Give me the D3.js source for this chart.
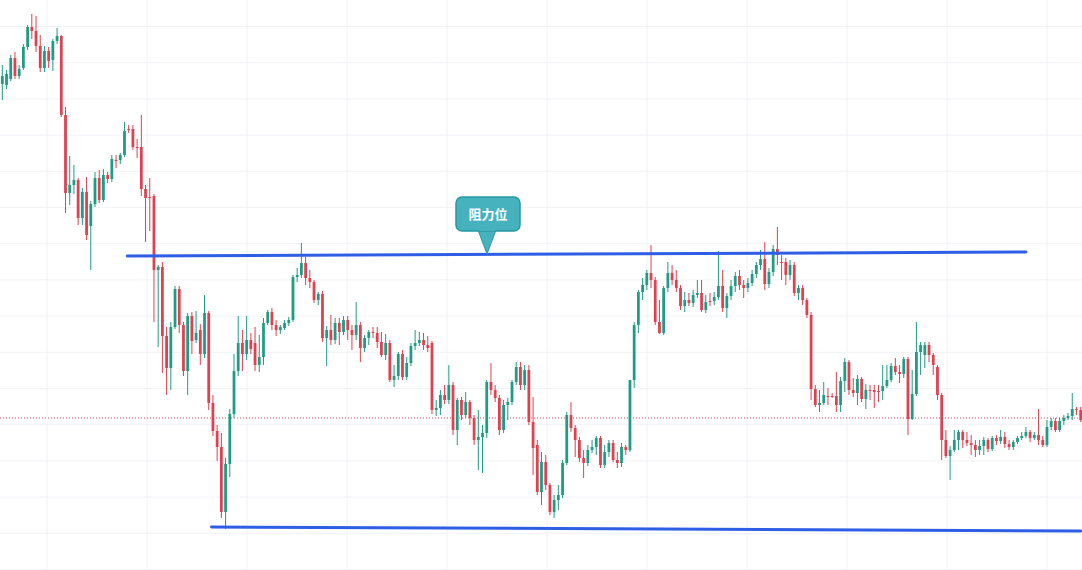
<!DOCTYPE html>
<html>
<head>
<meta charset="utf-8">
<script src="https://cdn.jsdelivr.net/npm/d3@7"></script>
<style>
  body { margin: 0; background: #fff; }
  svg { display: block; }
</style>
</head>
<body>
<svg width="1082" height="570"></svg>
<script>
// candle values (price scale is inverted: smaller = higher on chart)
const opens = [84,85,79,58,76,68,47,27,31,46,68,51,60,41,36,115,193,185,180,218,192,226,204,178,200,175,179,160,160,155,129,129,147,147,189,197,196,270,267,336,368,327,289,325,371,316,340,330,354,313,403,431,447,512,464,414,371,343,354,340,343,365,357,323,312,325,330,328,323,320,277,275,263,278,282,300,294,338,330,340,323,332,320,330,335,325,348,338,332,333,342,355,343,380,376,354,377,363,346,343,340,345,343,410,408,395,400,385,430,400,415,402,418,440,437,433,382,390,398,430,405,402,382,367,385,370,422,445,492,462,485,512,500,495,463,415,428,440,458,463,450,447,438,465,452,443,460,463,447,450,380,325,292,285,273,280,322,333,288,273,280,288,306,300,303,295,293,310,301,301,297,286,308,296,286,276,285,288,283,274,265,259,284,272,249,262,262,275,265,293,288,300,315,389,405,403,396,396,396,405,381,362,390,393,379,399,390,390,391,391,386,380,366,372,374,359,419,394,352,355,345,355,367,395,440,456,450,440,432,440,443,445,450,446,440,449,438,441,437,444,447,442,438,436,432,438,435,440,445,427,421,430,421,418,416,409,410];
const closes = [76,74,58,76,69,47,27,31,46,68,51,61,41,36,115,193,185,180,218,192,235,204,178,200,175,179,159,160,155,131,129,147,147,189,198,197,270,267,336,368,327,289,325,371,316,341,333,354,313,403,431,447,512,464,414,371,343,354,340,349,365,357,323,312,325,330,327,323,320,277,275,263,278,282,300,294,338,330,340,323,332,320,330,335,325,348,338,332,333,342,355,343,380,376,354,377,363,346,343,340,345,348,410,408,395,400,385,430,400,415,402,418,440,437,433,382,390,398,430,405,402,382,367,385,370,422,448,492,462,485,512,500,495,463,415,428,440,458,463,450,447,438,465,452,443,460,463,447,450,380,325,292,285,273,280,322,333,288,273,280,288,306,300,303,295,293,310,302,301,297,286,308,296,286,276,285,288,283,274,265,259,284,272,249,255,262,275,265,293,288,300,315,389,405,403,395,396,396,405,381,362,390,393,379,399,390,390,392,391,386,380,366,372,374,359,419,394,352,345,345,355,365,395,440,456,450,440,432,440,443,445,450,446,440,449,438,441,437,444,447,442,438,436,432,438,435,440,445,427,421,430,421,418,416,409,410,420];
const highs = [65,70,55,52,65,44,25,14,16,35,46,47,39,28,35,107,156,165,178,188,177,201,172,170,169,172,155,155,153,122,125,125,139,115,185,178,194,265,262,327,322,286,286,322,313,312,311,324,295,311,395,425,433,458,409,354,316,330,316,333,327,335,318,310,308,320,325,320,317,275,268,243,257,270,280,292,291,326,315,318,318,316,316,325,302,322,335,330,327,327,332,334,340,365,352,350,357,343,330,332,333,336,341,400,390,385,365,382,398,397,392,400,415,410,425,380,363,385,395,400,398,380,362,362,365,365,397,440,452,455,483,495,485,460,412,402,425,437,450,445,440,436,436,445,440,440,452,443,445,447,322,290,278,270,245,277,300,286,262,265,270,285,292,293,290,280,280,295,293,292,251,270,293,280,272,270,280,278,270,262,250,242,268,245,227,255,258,260,262,285,285,298,312,385,390,382,388,393,372,377,358,360,378,375,377,384,385,385,385,365,365,363,358,365,357,357,370,322,342,342,342,353,365,393,430,446,430,430,430,432,435,440,440,437,438,436,435,430,432,440,440,436,432,427,430,432,409,436,420,418,418,418,415,413,393,407,407];
const lows = [100,89,81,79,79,70,50,39,52,72,72,68,71,44,117,213,205,194,225,225,240,270,207,203,202,183,182,168,164,157,133,150,158,196,242,231,322,347,373,395,390,329,333,376,395,354,343,365,358,410,436,461,518,529,477,418,376,371,360,354,371,372,365,325,330,336,334,330,326,322,282,278,285,288,303,305,342,366,345,344,345,335,340,350,340,362,352,345,338,348,357,360,382,387,380,380,380,366,350,346,350,352,414,416,415,404,404,435,445,420,418,425,445,470,473,438,395,402,435,433,420,405,385,390,390,425,475,495,505,490,515,518,510,498,465,432,457,462,478,466,453,455,468,468,457,462,468,467,455,452,388,333,300,290,288,325,334,335,292,285,292,310,312,306,307,298,312,313,306,305,300,312,318,300,292,290,298,292,286,278,270,290,288,276,265,280,285,280,296,300,305,318,400,407,412,405,405,398,412,412,392,395,397,405,402,409,400,408,402,400,388,382,375,383,378,435,420,396,375,368,362,375,400,460,458,480,452,450,448,446,455,457,455,455,452,451,445,444,448,450,450,444,440,438,442,440,445,447,447,430,432,432,425,420,420,415,422];

// drawn levels (index of candle where each line starts/ends, and its value)
const resistance = { from: 30, to: 243, start: 256, end: 252, label: "阻力位" };
const support = { from: 50, to: 256, start: 527, end: 531 };
const markLevel = 418;

function draw() {
  const svg = d3.select("svg");
  const width = +svg.attr("width");
  const height = +svg.attr("height");

  const idx = d3.range(opens.length);
  const x = d3.scaleBand().domain(idx).range([-0.5, 1083.5]).padding(0.34);
  const y = d3.scaleLinear().domain([0, 570]).range([0, height]);
  const cx = (i) => x(i) + x.bandwidth() / 2;

  // grid
  const vGrid = d3.range(47, width, 100);
  const hGrid = d3.range(26.5, height, 36.2);
  svg.append("g").selectAll("line").data(vGrid).join("line")
    .attr("x1", (d) => d).attr("x2", (d) => d).attr("y1", 0).attr("y2", height)
    .attr("stroke", "#f0f2f6");
  svg.append("g").selectAll("line").data(hGrid).join("line")
    .attr("y1", (d) => d).attr("y2", (d) => d).attr("x1", 0).attr("x2", width)
    .attr("stroke", "#f0f2f6");

  // dotted price line
  svg.append("line")
    .attr("x1", 0).attr("x2", width).attr("y1", y(markLevel)).attr("y2", y(markLevel))
    .attr("stroke", "#e0455a").attr("stroke-dasharray", "1,2");

  const up = "#1f9c84";
  const down = "#e0404f";
  const color = (i) => (closes[i] < opens[i] ? up : down);

  // wicks
  svg.append("g").selectAll("line").data(idx).join("line")
    .attr("x1", cx).attr("x2", cx)
    .attr("y1", (i) => y(highs[i])).attr("y2", (i) => y(lows[i]))
    .attr("stroke", color).attr("stroke-width", 1);

  // bodies
  svg.append("g").selectAll("rect").data(idx).join("rect")
    .attr("x", (i) => x(i))
    .attr("width", x.bandwidth())
    .attr("y", (i) => y(Math.min(opens[i], closes[i])))
    .attr("height", (i) => Math.max(1, Math.abs(y(opens[i]) - y(closes[i]))))
    .attr("fill", color);

  // trend lines
  [resistance, support].forEach((l) => {
    svg.append("line")
      .attr("x1", x(l.from)).attr("x2", cx(l.to))
      .attr("y1", y(l.start)).attr("y2", y(l.end))
      .attr("stroke", "#2f5ee6").attr("stroke-width", 3).attr("stroke-linecap", "round");
  });

  // callout
  const tipX = 487;
  const tipY = y(resistance.start) - 2;
  const g = svg.append("g");
  g.append("path")
    .attr("d", `M${tipX - 9},230 L${tipX},${tipY} L${tipX + 9},230 Z`)
    .attr("fill", "#45b2bd").attr("stroke", "#2a98a3");
  g.append("rect")
    .attr("x", 456).attr("y", 197).attr("width", 64).attr("height", 34).attr("rx", 6)
    .attr("fill", "#45b2bd").attr("stroke", "#2a98a3").attr("stroke-width", 1.5);
  g.append("path")
    .attr("d", `M${tipX - 8},229.5 L${tipX + 8},229.5`)
    .attr("stroke", "#45b2bd").attr("stroke-width", 3);
  g.append("text")
    .attr("x", 488).attr("y", 219).attr("text-anchor", "middle")
    .attr("fill", "#fff").attr("font-weight", "bold").attr("font-size", "13px")
    .attr("font-family", "'Noto Sans CJK SC', sans-serif")
    .text(resistance.label);
}
draw();
</script>
</body>
</html>
